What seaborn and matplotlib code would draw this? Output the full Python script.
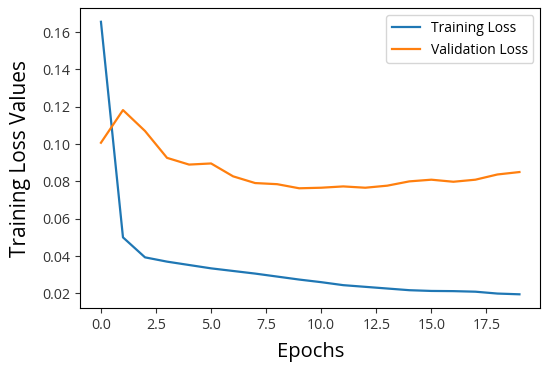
import numpy as np
import pandas as pd
import seaborn as sns
import matplotlib.pyplot as plt

plt.rcParams['font.family'] = ['Open Sans', 'DejaVu Sans']

epochs = list(range(20))
training_loss = [0.1655, 0.0500, 0.0393, 0.0370, 0.0352, 0.0334, 0.0320, 0.0306, 0.0290, 0.0274,
                 0.0260, 0.0244, 0.0235, 0.0226, 0.0217, 0.0213, 0.0212, 0.0209, 0.0199, 0.0195]
validation_loss = [0.1007, 0.1182, 0.1070, 0.0926, 0.0890, 0.0896, 0.0827, 0.0791, 0.0785, 0.0763,
                   0.0766, 0.0773, 0.0766, 0.0777, 0.0800, 0.0809, 0.0798, 0.0809, 0.0837, 0.0850]

df = pd.DataFrame({'Epoch': epochs * 2,
                   'Loss': training_loss + validation_loss,
                   'Series': ['Training Loss'] * 20 + ['Validation Loss'] * 20})

fig = plt.figure(figsize=(5.5, 3.71), dpi=100)
ax = fig.add_axes([0.1455, 0.170, 0.837, 0.808])

sns.lineplot(data=df, x='Epoch', y='Loss', hue='Series',
             palette=['#1f77b4', '#ff7f0e'], linewidth=1.6, ax=ax)

ax.set_xticks([0, 2.5, 5, 7.5, 10, 12.5, 15, 17.5])
ax.set_xticklabels(['0.0', '2.5', '5.0', '7.5', '10.0', '12.5', '15.0', '17.5'])
ax.set_yticks([0.02, 0.04, 0.06, 0.08, 0.10, 0.12, 0.14, 0.16])
ax.set_yticklabels(['0.02', '0.04', '0.06', '0.08', '0.10', '0.12', '0.14', '0.16'])
ax.tick_params(labelsize=10.3, colors='#333333')
ax.set_xlabel('Epochs', fontsize=14.5, labelpad=7)
ax.set_ylabel('Training Loss Values', fontsize=15, labelpad=8)
ax.legend(title=None, loc='upper right', fontsize=10)

fig.savefig('out.png', dpi=100)
